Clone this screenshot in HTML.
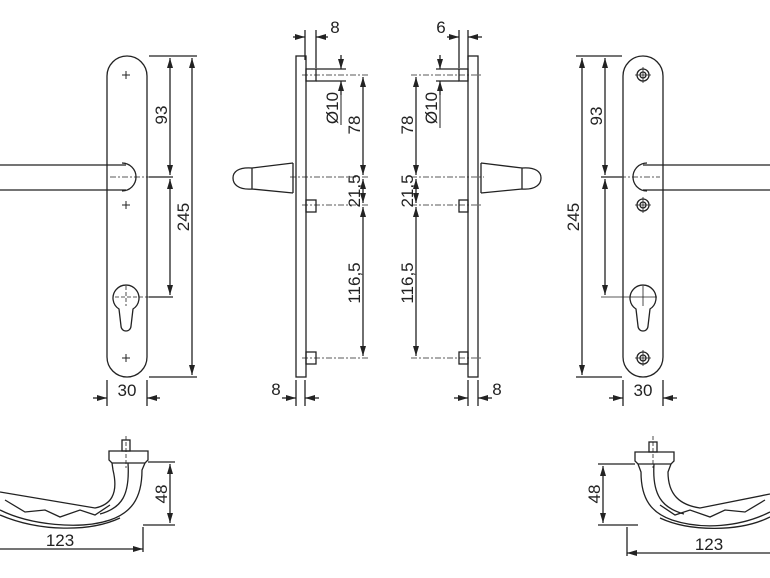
<!DOCTYPE html>
<html><head><meta charset="utf-8"><style>
html,body{margin:0;padding:0;background:#fff}
svg{display:block}
text{font-family:"Liberation Sans",sans-serif;font-size:17px;fill:#222}
</style></head><body>
<svg width="770" height="578" viewBox="0 0 770 578" xmlns="http://www.w3.org/2000/svg">
<defs>
<marker id="a" viewBox="0 0 10 6" refX="10" refY="3" markerWidth="11" markerHeight="6" orient="auto-start-reverse" markerUnits="userSpaceOnUse"><path d="M0,0L10,3L0,6z" fill="#222"/></marker>
</defs>
<g fill="none" stroke="#222" stroke-width="1.3">
<!-- LEFT FRONT PLATE -->
<rect x="107" y="56" width="40" height="321" rx="20"/>
<path d="M0,165H126M0,190H126"/>
<path d="M122,163A14,14 0 1 1 122,191"/>
<path d="M110,177H150" stroke-dasharray="6,2,2,2" stroke-width="0.8"/>
<path d="M122,75h8M126,71v8M122,205h8M126,201v8M122,358h8M126,354v8" stroke-width="1"/>
<path d="M119,309A13,13 0 1 1 133,309L131,326A5,5 0 0 1 121,326Z"/>
<path d="M115,297H150M126,286v20" stroke-width="0.8" stroke-dasharray="4,2"/>
<path d="M149,56H197M149,377H197M149,177H173M149,297H173"/>
<path d="M170,58V175" marker-start="url(#a)" marker-end="url(#a)"/>
<path d="M170,179V295" marker-start="url(#a)" marker-end="url(#a)"/>
<path d="M192,58V375" marker-start="url(#a)" marker-end="url(#a)"/>
<path d="M107,380V406M147,380V406"/>
<path d="M93,398H107" marker-end="url(#a)"/><path d="M160,398H147" marker-end="url(#a)"/>

<!-- LEFT SIDE VIEW -->
<rect x="296" y="56" width="10" height="321"/>
<rect x="306" y="69" width="10" height="12"/><rect x="306" y="200" width="10" height="12"/><rect x="306" y="352" width="10" height="12"/>
<path d="M293,163L252,168M293,193L252,189M293,163V193M252,168V189M252,168C238,167 233,172 233,178C233,184 238,190 252,189"/>
<path d="M290,177H368M302,75H368M302,205H368M302,358H368" stroke-width="0.8" stroke-dasharray="6,2,2,2"/>
<path d="M305,30V60M316,30V68"/>
<path d="M293,37H305" marker-end="url(#a)"/><path d="M328,37H316" marker-end="url(#a)"/>
<path d="M316,69H346M316,81H346"/>
<path d="M341,55V69" marker-end="url(#a)"/><path d="M341,95V81" marker-end="url(#a)"/>
<path d="M341,95V125" stroke-width="1"/>
<path d="M363,77V175" marker-start="url(#a)" marker-end="url(#a)"/>
<path d="M363,179V203" marker-start="url(#a)" marker-end="url(#a)"/>
<path d="M363,207V356" marker-start="url(#a)" marker-end="url(#a)"/>
<path d="M296,380V406M305,380V406"/>
<path d="M282,398H296" marker-end="url(#a)"/><path d="M319,398H305" marker-end="url(#a)"/>

<!-- RIGHT SIDE VIEW -->
<rect x="468" y="56" width="10" height="321"/>
<rect x="459" y="69" width="9" height="12"/><rect x="459" y="200" width="9" height="12"/><rect x="459" y="352" width="9" height="12"/>
<path d="M481,163L522,168M481,193L522,189M481,163V193M522,168V189M522,168C536,167 541,172 541,178C541,184 536,190 522,189"/>
<path d="M411,177H484M411,75H482M411,205H482M411,358H482" stroke-width="0.8" stroke-dasharray="6,2,2,2"/>
<path d="M459,30V68M468,30V60"/>
<path d="M447,37H459" marker-end="url(#a)"/><path d="M482,37H468" marker-end="url(#a)"/>
<path d="M436,69H459M436,81H459"/>
<path d="M440,55V69" marker-end="url(#a)"/><path d="M440,95V81" marker-end="url(#a)"/>
<path d="M440,95V128" stroke-width="1"/>
<path d="M416,77V175" marker-start="url(#a)" marker-end="url(#a)"/>
<path d="M416,179V203" marker-start="url(#a)" marker-end="url(#a)"/>
<path d="M416,207V356" marker-start="url(#a)" marker-end="url(#a)"/>
<path d="M468,380V406M478,380V406"/>
<path d="M454,398H468" marker-end="url(#a)"/><path d="M492,398H478" marker-end="url(#a)"/>

<!-- RIGHT FRONT PLATE -->
<rect x="623" y="56" width="40" height="321" rx="20"/>
<path d="M643,165H770M643,190H770"/>
<path d="M647,163A14,14 0 1 0 647,191"/>
<path d="M620,177H660" stroke-dasharray="6,2,2,2" stroke-width="0.8"/>
<circle cx="643" cy="75" r="6"/><circle cx="643" cy="75" r="3"/><circle cx="643" cy="205" r="6"/><circle cx="643" cy="205" r="3"/><circle cx="643" cy="358" r="6"/><circle cx="643" cy="358" r="3"/>
<path d="M635,75h16M643,67v16M635,205h16M643,197v16M635,358h16M643,350v16" stroke-width="0.8"/>
<path d="M636,309A13,13 0 1 1 650,309L648,326A5,5 0 0 1 638,326Z"/>
<path d="M601,297H657M643,286v20" stroke-width="0.8"/>
<path d="M576,56H622M576,377H622M601,177H622"/>
<path d="M605,58V175" marker-start="url(#a)" marker-end="url(#a)"/>
<path d="M605,179V295" marker-start="url(#a)" marker-end="url(#a)"/>
<path d="M582,58V375" marker-start="url(#a)" marker-end="url(#a)"/>
<path d="M623,380V406M663,380V406"/>
<path d="M609,398H623" marker-end="url(#a)"/><path d="M677,398H663" marker-end="url(#a)"/>

<!-- BOTTOM LEFT HANDLE -->
<rect x="122" y="440" width="8" height="11"/>
<path d="M109,451H148V460L145,463H112L109,460Z"/>
<path d="M112,463L113,470C119,495 110,505 95,508L0,492M145,463L142,470C142,500 130,513 110,520C80,530 30,525 0,510M128,463C130,495 122,508 100,514"/>
<path d="M0,515C40,532 90,532 120,518M5,500L25,512L45,510L60,517L80,510L95,515L110,505"/>
<path d="M126,436V468" stroke-width="0.8" stroke-dasharray="4,2"/>
<path d="M148,462H175M143,525H175"/>
<path d="M170,464V523" marker-start="url(#a)" marker-end="url(#a)"/>
<path d="M143,527V552"/>
<path d="M0,549H143" marker-end="url(#a)"/>

<!-- BOTTOM RIGHT HANDLE -->
<rect x="649" y="442" width="8" height="10"/>
<path d="M635,452H674V461L671,464H638L635,461Z"/>
<path d="M638,464L641,472C641,500 652,513 672,520C702,530 740,527 770,512M671,464L668,472C668,495 680,505 700,508L770,494M654,464C652,495 662,508 684,514"/>
<path d="M770,517C740,532 690,532 660,518M765,500L745,512L725,510L710,517L690,510L675,515L660,505"/>
<path d="M653,436V468" stroke-width="0.8" stroke-dasharray="4,2"/>
<path d="M598,464H635M598,525H638"/>
<path d="M603,466V523" marker-start="url(#a)" marker-end="url(#a)"/>
<path d="M627,527V556"/>
<path d="M770,553H627" marker-end="url(#a)"/>
</g>
<g>
<text transform="translate(167,115) rotate(-90)" text-anchor="middle">93</text>
<text transform="translate(189,217) rotate(-90)" text-anchor="middle">245</text>
<text x="127" y="396" text-anchor="middle">30</text>
<text x="335" y="33" text-anchor="middle">8</text>
<text transform="translate(338,108) rotate(-90)" text-anchor="middle">Ø10</text>
<text transform="translate(360,125) rotate(-90)" text-anchor="middle">78</text>
<text transform="translate(360,191) rotate(-90)" text-anchor="middle">21,5</text>
<text transform="translate(360,283) rotate(-90)" text-anchor="middle">116,5</text>
<text x="276" y="395" text-anchor="middle">8</text>
<text x="441" y="33" text-anchor="middle">6</text>
<text transform="translate(437,108) rotate(-90)" text-anchor="middle">Ø10</text>
<text transform="translate(413,125) rotate(-90)" text-anchor="middle">78</text>
<text transform="translate(413,191) rotate(-90)" text-anchor="middle">21,5</text>
<text transform="translate(413,283) rotate(-90)" text-anchor="middle">116,5</text>
<text x="497" y="395" text-anchor="middle">8</text>
<text transform="translate(602,116) rotate(-90)" text-anchor="middle">93</text>
<text transform="translate(579,217) rotate(-90)" text-anchor="middle">245</text>
<text x="643" y="396" text-anchor="middle">30</text>
<text transform="translate(167,494) rotate(-90)" text-anchor="middle">48</text>
<text x="60" y="546" text-anchor="middle">123</text>
<text transform="translate(600,494) rotate(-90)" text-anchor="middle">48</text>
<text x="709" y="550" text-anchor="middle">123</text>
</g>
</svg>
</body></html>
